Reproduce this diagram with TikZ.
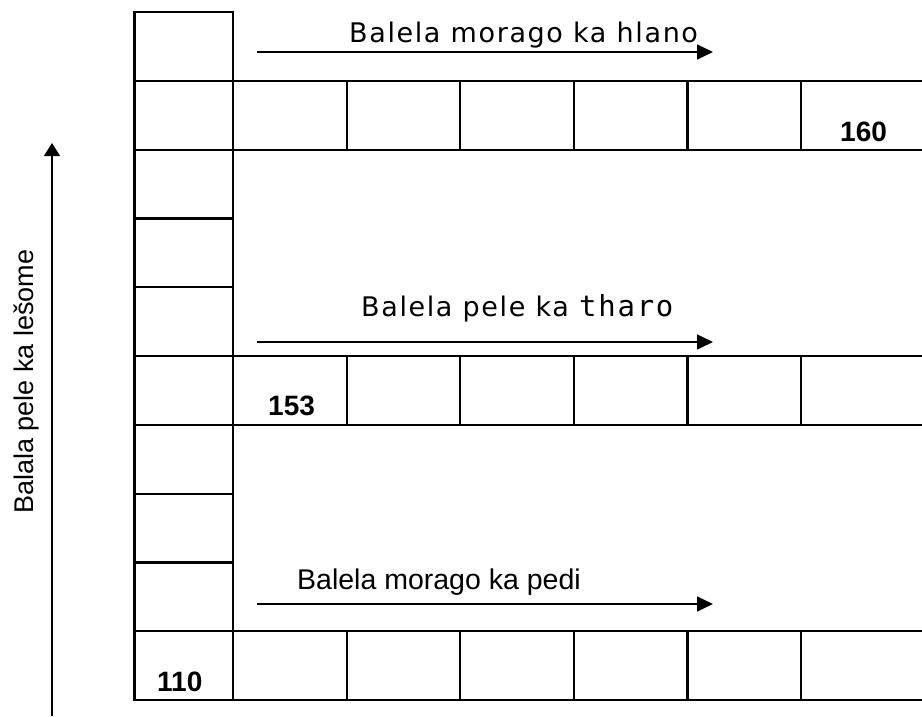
\documentclass[tikz,border=0pt]{standalone}
\usepackage{fontspec}
\setmainfont{Liberation Sans}
\newfontfamily\lblfont[LetterSpace=6]{DejaVu Sans}
\newfontfamily\lblmono[LetterSpace=6]{DejaVu Sans Mono}
\usetikzlibrary{arrows.meta}
\begin{document}
\begin{tikzpicture}[x=1pt,y=-1pt,
  cellL/.style={draw, line width=2.2pt, rectangle, inner sep=0pt, outer sep=0pt,
    minimum width=98.5pt, minimum height=68.8pt, anchor=north west},
  cellR/.style={draw, line width=2.2pt, rectangle, inner sep=0pt, outer sep=0pt,
    minimum width=113.6pt, minimum height=68.8pt, anchor=north west},
  cellE/.style={cellR, minimum width=124pt},
  arr/.style={line width=1.5pt, -{Triangle[length=16pt,width=15pt]}},
  varr/.style={line width=1.5pt, -{Triangle[length=13pt,width=16pt]}},
  num/.style={anchor=base west, inner sep=0pt, font=\bfseries\fontsize{28}{32}\selectfont},
  lbl/.style={anchor=base west, inner sep=0pt}]
\useasboundingbox (0,0) rectangle (922,716);
% left column
\foreach \i in {0,...,9} {
  \node[cellL] (L\i) at (134.5,{12+68.8*\i}) {};
}
% long rows (last cell runs past the right edge)
\foreach \r/\n in {1/a,5/b,9/c} {
  \foreach \j in {0,...,4} {
    \node[cellR] (R\n\j) at ({233+113.6*\j},{12+68.8*\r}) {};
  }
  \node[cellE] (R\n5) at (801,{12+68.8*\r}) {};
}
% numbers
\node[num] (n160) at (840,141.7) {160};
\node[num] (n153) at (268,415) {153};
\node[num] (n110) at (157,691.7) {110};
% horizontal arrows
\coordinate (a1s) at (257,52);  \coordinate (a1e) at (713,52);
\coordinate (a2s) at (257,342); \coordinate (a2e) at (713,342);
\coordinate (a3s) at (257,604); \coordinate (a3e) at (713,604);
\draw[arr] (a1s) -- (a1e);
\draw[arr] (a2s) -- (a2e);
\draw[arr] (a3s) -- (a3e);
% labels
\node[lbl] (t1) at (349,42) {\lblfont\fontsize{27}{30}\selectfont Balela morago ka hlano};
\node[lbl] (t2) at (361,316) {\lblfont\fontsize{27}{30}\selectfont Balela pele ka {\lblmono\fontsize{29}{30}\selectfont tharo}};
\node[lbl] (t3) at (297,589) {\fontsize{28.5}{32}\selectfont Balela morago ka pedi};
% vertical arrow
\coordinate (vs) at (52,716); \coordinate (ve) at (52,143);
\draw[varr] (vs) -- (ve);
\node[anchor=base, rotate=90, inner sep=0pt] (vl) at (33,381.5) {\fontsize{27}{30}\selectfont Balala pele ka lešome};
\end{tikzpicture}
\end{document}
